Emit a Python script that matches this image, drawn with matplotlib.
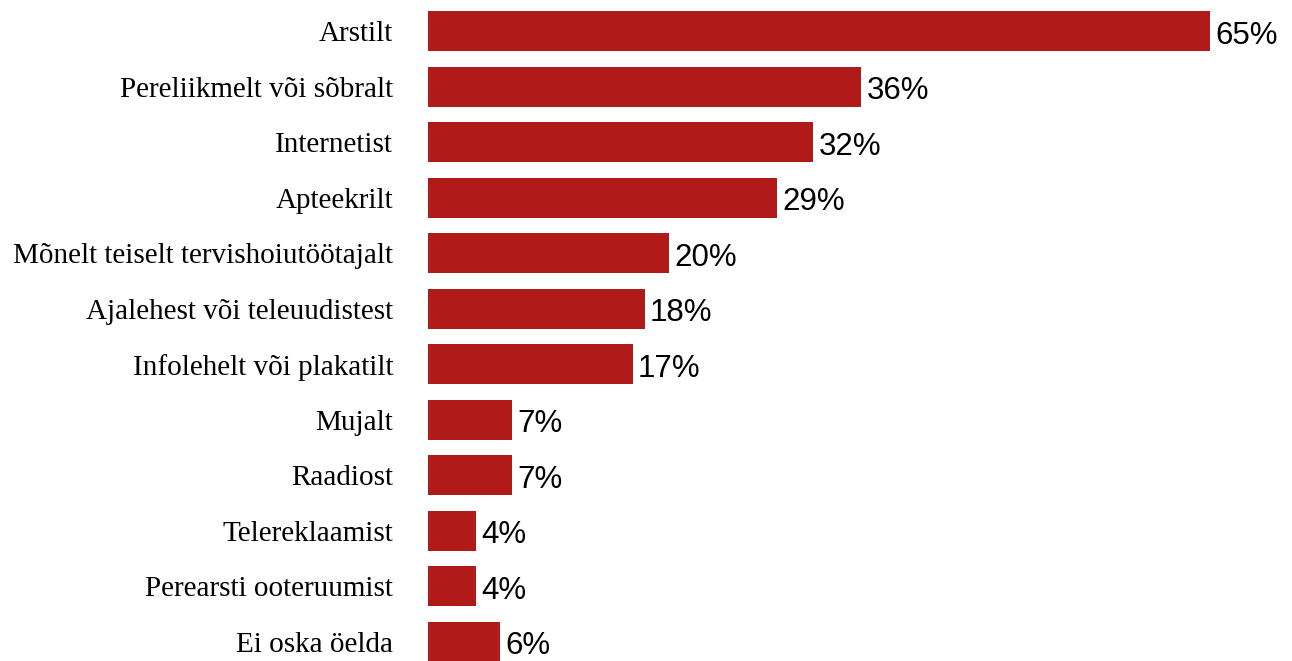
import numpy as np
import matplotlib
matplotlib.use("Agg")
import matplotlib.pyplot as plt

categories = [
    "Arstilt",
    "Pereliikmelt või sõbralt",
    "Internetist",
    "Apteekrilt",
    "Mõnelt teiselt tervishoiutöötajalt",
    "Ajalehest või teleuudistest",
    "Infolehelt või plakatilt",
    "Mujalt",
    "Raadiost",
    "Telereklaamist",
    "Perearsti ooteruumist",
    "Ei oska öelda",
]
values = [65, 36, 32, 29, 20, 18, 17, 7, 7, 4, 4, 6]
value_labels = [f"{v}%" for v in values]

fig = plt.figure(figsize=(12.92, 6.61), dpi=100)
ax = fig.add_axes([428 / 1292, 0, 1 - 428 / 1292, 1])

y = np.arange(len(categories))
ax.barh(y, values, height=0.72, color="#B01A18")

ax.set_xlim(0, 864 / 12.03)
ax.set_ylim(len(categories) - 1 + 0.35, -0.56)

ax.set_yticks(y)
ax.set_yticklabels(categories, family="Liberation Serif", fontsize=21)
ax.tick_params(axis="y", length=0, pad=25)
ax.set_xticks([])
for s in ax.spines.values():
    s.set_visible(False)

for yi, v, lab in zip(y, values, value_labels):
    ax.annotate(lab, (v, yi), xytext=(4, -3.5), textcoords="offset points",
                va="center", ha="left", family="Liberation Sans", fontsize=22.5)

fig.savefig("out.png", dpi=100)
